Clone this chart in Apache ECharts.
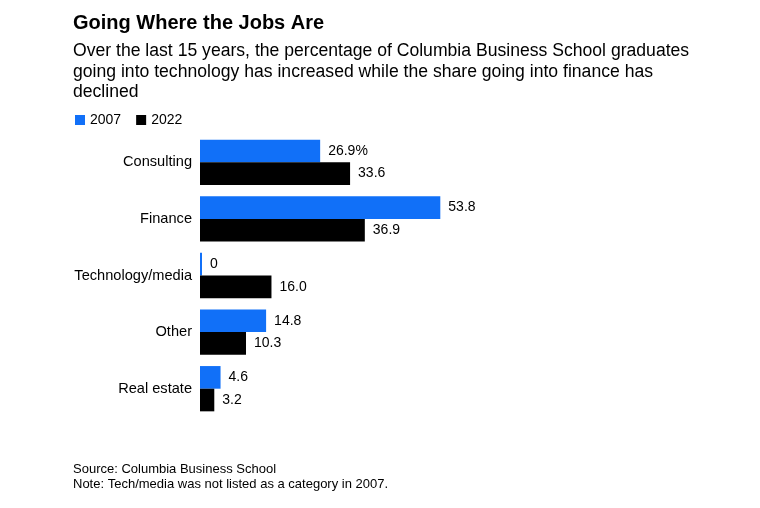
<!DOCTYPE html>
<html>
<head>
<meta charset="utf-8">
<script src="https://cdn.jsdelivr.net/npm/echarts@6/dist/echarts.min.js"></script>
<style>
html,body{margin:0;padding:0;background:#fff;}
#chart{width:760px;height:508px;}
</style>
</head>
<body>
<div id="chart"></div>
<script>
const categories = ['Consulting', 'Finance', 'Technology/media', 'Other', 'Real estate'];
const values2007 = [26.9, 53.8, 0, 14.8, 4.6];
const values2022 = [33.6, 36.9, 16.0, 10.3, 3.2];
const seriesNames = ['2007', '2022'];

const FONT = '"Liberation Sans", Arial, Helvetica, sans-serif';
const chart = echarts.init(document.getElementById('chart'));

function labelFmt(p) {
  const v = p.value.toFixed(p.value === 0 ? 0 : 1);
  return (p.seriesIndex === 0 && p.dataIndex === 0) ? v + '%' : v;
}

chart.setOption({
  animation: false,
  textStyle: { fontFamily: FONT },
  title: [
    { text: 'Going Where the Jobs Are', left: 68, top: 8, padding: 5,
      textStyle: { fontFamily: FONT, fontSize: 20, fontWeight: 'bold', color: '#000' } },
    { text: 'Over the last 15 years, the percentage of Columbia Business School graduates\ngoing into technology has increased while the share going into finance has\ndeclined',
      left: 68, top: 36, padding: 5,
      textStyle: { fontFamily: FONT, fontSize: 17.6, fontWeight: 'normal', color: '#000', lineHeight: 20.5 } },
    { text: 'Source: Columbia Business School\nNote: Tech/media was not listed as a category in 2007.',
      left: 68, top: 457, padding: 5,
      textStyle: { fontFamily: FONT, fontSize: 13, fontWeight: 'normal', color: '#000', lineHeight: 15 } }
  ],
  legend: {
    left: 70, top: 108,
    itemWidth: 10, itemHeight: 10, itemGap: 15,
    icon: 'rect',
    textStyle: { fontFamily: FONT, fontSize: 14, color: '#000' },
    data: seriesNames
  },
  grid: { left: 200, right: 292, top: 134, bottom: 91, containLabel: false },
  xAxis: {
    type: 'value', min: 0, max: 60,
    show: false
  },
  yAxis: {
    type: 'category', data: categories, inverse: true,
    axisLine: { show: false }, axisTick: { show: false },
    axisLabel: { fontFamily: FONT, fontSize: 14.6, color: '#000', margin: 8 }
  },
  series: [
    { name: seriesNames[0], type: 'bar', data: values2007, barGap: '0%', barCategoryGap: '20%',
      barMinHeight: 2,
      itemStyle: { color: '#1170f8' },
      label: { show: true, position: 'right', distance: 8, fontFamily: FONT, fontSize: 14, color: '#000', formatter: labelFmt } },
    { name: seriesNames[1], type: 'bar', data: values2022, barGap: '0%', barCategoryGap: '20%',
      itemStyle: { color: '#000' },
      label: { show: true, position: 'right', distance: 8, fontFamily: FONT, fontSize: 14, color: '#000', formatter: labelFmt } }
  ]
});
</script>
</body>
</html>
